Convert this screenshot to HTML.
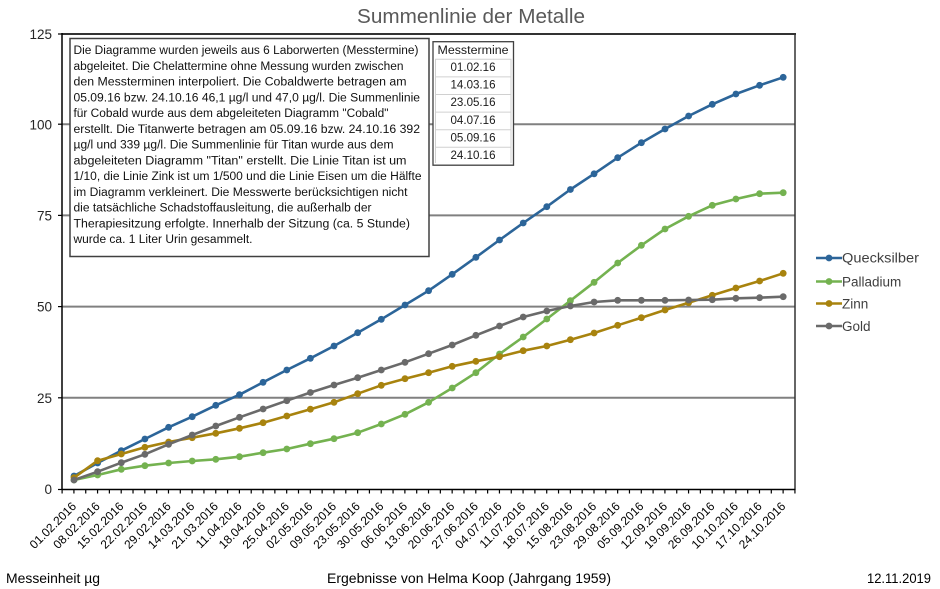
<!DOCTYPE html>
<html>
<head>
<meta charset="utf-8">
<style>
  html,body{margin:0;padding:0;background:#fff;}
  svg{display:block;}
  text{font-family:"Liberation Sans",Arial,sans-serif;}
</style>
</head>
<body>
<svg width="940" height="589" viewBox="0 0 940 589" xmlns="http://www.w3.org/2000/svg">
  <defs>
    <marker id="mB" markerUnits="userSpaceOnUse" markerWidth="10" markerHeight="10" refX="5" refY="5"><circle cx="5" cy="5" r="3.4" fill="#2c6599"/></marker>
    <marker id="mP" markerUnits="userSpaceOnUse" markerWidth="10" markerHeight="10" refX="5" refY="5"><circle cx="5" cy="5" r="3.4" fill="#74b250"/></marker>
    <marker id="mZ" markerUnits="userSpaceOnUse" markerWidth="10" markerHeight="10" refX="5" refY="5"><circle cx="5" cy="5" r="3.4" fill="#a8830e"/></marker>
    <marker id="mG" markerUnits="userSpaceOnUse" markerWidth="10" markerHeight="10" refX="5" refY="5"><circle cx="5" cy="5" r="3.4" fill="#6a6a6a"/></marker>
  </defs>

  <!-- Title -->
  <text x="471" y="23" text-anchor="middle" font-size="20" fill="#595959" textLength="228" lengthAdjust="spacingAndGlyphs">Summenlinie der Metalle</text>

  <!-- Gridlines -->
  <g stroke="#808080" stroke-width="2">
    <line x1="62" y1="124.2" x2="795" y2="124.2"/>
    <line x1="62" y1="215.4" x2="795" y2="215.4"/>
    <line x1="62" y1="306.6" x2="795" y2="306.6"/>
    <line x1="62" y1="397.8" x2="795" y2="397.8"/>
  </g>
  <!-- Plot border top/right -->
  <line x1="62" y1="34" x2="796" y2="34" stroke="#333" stroke-width="2"/>
  <line x1="795" y1="33" x2="795" y2="490" stroke="#333" stroke-width="1.5"/>

  <!-- Axes -->
  <line x1="62" y1="33" x2="62" y2="490" stroke="#000" stroke-width="1.5"/>
  <line x1="62" y1="489.5" x2="795" y2="489.5" stroke="#000" stroke-width="1.5"/>
  <!-- y ticks -->
  <g stroke="#000" stroke-width="1.2">
    <line x1="58" y1="34" x2="62" y2="34"/>
    <line x1="58" y1="124.2" x2="62" y2="124.2"/>
    <line x1="58" y1="215.4" x2="62" y2="215.4"/>
    <line x1="58" y1="306.6" x2="62" y2="306.6"/>
    <line x1="58" y1="397.8" x2="62" y2="397.8"/>
    <line x1="58" y1="489.5" x2="62" y2="489.5"/>
  </g>
  <!-- x ticks -->
  <line x1="61.5" y1="491.5" x2="796" y2="491.5" stroke="#000" stroke-width="4" stroke-dasharray="1.2 10.62"/>

  <!-- y labels -->
  <g font-size="13.5" fill="#262626" text-anchor="end">
    <text x="52" y="39">125</text>
    <text x="52" y="129.5">100</text>
    <text x="52" y="220.5">75</text>
    <text x="52" y="311.5">50</text>
    <text x="52" y="403">25</text>
    <text x="52" y="494">0</text>
  </g>

  <!-- Series -->
  <g fill="none" stroke-width="2.6" stroke-linejoin="round" stroke-linecap="round">
    <polyline stroke="#2c6599" marker-start="url(#mB)" marker-mid="url(#mB)" marker-end="url(#mB)"
      points="74,476 97.6,463 121.3,450.7 144.9,439 168.6,427.3 192.2,416.7 215.8,405.3 239.5,394.7 263.1,382.3 286.8,370 310.4,358.3 334,346 357.7,332.7 381.3,319.3 405,305 428.6,290.7 452.2,274.3 475.9,257.3 499.5,240 523.2,223 546.8,206.7 570.4,189.5 594.1,173.8 617.7,157.7 641.4,142.7 665,129 688.6,116 712.3,104.3 735.9,94 759.6,85.3 783.2,77.3"/>
    <polyline stroke="#74b250" marker-start="url(#mP)" marker-mid="url(#mP)" marker-end="url(#mP)"
      points="74,480 97.6,475 121.3,469.3 144.9,465.7 168.6,463 192.2,461 215.8,459.3 239.5,456.7 263.1,452.7 286.8,449 310.4,443.7 334,438.7 357.7,432.7 381.3,424 405,414.3 428.6,402.3 452.2,388 475.9,372.7 499.5,354 523.2,337 546.8,319 570.4,300.7 594.1,282.3 617.7,263 641.4,245.3 665,229 688.6,216.3 712.3,205.3 735.9,199 759.6,193.7 783.2,192.7"/>
    <polyline stroke="#a8830e" marker-start="url(#mZ)" marker-mid="url(#mZ)" marker-end="url(#mZ)"
      points="74,477.7 97.6,460.7 121.3,454 144.9,447.3 168.6,442 192.2,437.7 215.8,433.3 239.5,428.3 263.1,422.7 286.8,416 310.4,409.2 334,402.3 357.7,393.7 381.3,385.3 405,378.7 428.6,372.7 452.2,366.3 475.9,361.3 499.5,356.7 523.2,350.7 546.8,346 570.4,339.7 594.1,333 617.7,325.3 641.4,317.7 665,310 688.6,302.7 712.3,295.3 735.9,288 759.6,281 783.2,273.3"/>
    <polyline stroke="#6a6a6a" marker-start="url(#mG)" marker-mid="url(#mG)" marker-end="url(#mG)"
      points="74,480 97.6,471.7 121.3,462.7 144.9,454.3 168.6,444.3 192.2,435 215.8,426 239.5,417.3 263.1,409 286.8,400.7 310.4,392.5 334,385 357.7,377.7 381.3,370 405,362.3 428.6,353.7 452.2,345 475.9,335.3 499.5,326 523.2,317 546.8,311 570.4,306 594.1,302 617.7,300.3 641.4,300.3 665,300.3 688.6,300 712.3,299.7 735.9,298.3 759.6,297.7 783.2,296.7"/>
  </g>

  <!-- Text box -->
  <rect x="70" y="38.5" width="359" height="218" fill="#fff" stroke="#404040" stroke-width="1.5"/>
  <g font-size="11.5" fill="#111">
    <text x="73.5" y="54" textLength="345" lengthAdjust="spacingAndGlyphs">Die Diagramme wurden jeweils aus 6 Laborwerten (Messtermine)</text>
    <text x="73.5" y="69.75" textLength="330" lengthAdjust="spacingAndGlyphs">abgeleitet. Die Chelattermine ohne Messung wurden zwischen</text>
    <text x="73.5" y="85.5" textLength="333" lengthAdjust="spacingAndGlyphs">den Messterminen interpoliert. Die Cobaldwerte betragen am</text>
    <text x="73.5" y="101.25" textLength="346.5" lengthAdjust="spacingAndGlyphs">05.09.16 bzw. 24.10.16  46,1 µg/l und 47,0 µg/l. Die Summenlinie</text>
    <text x="73.5" y="117" textLength="315" lengthAdjust="spacingAndGlyphs">für Cobald wurde aus dem  abgeleiteten Diagramm "Cobald"</text>
    <text x="73.5" y="132.75" textLength="346.5" lengthAdjust="spacingAndGlyphs">erstellt. Die Titanwerte  betragen am 05.09.16 bzw. 24.10.16  392</text>
    <text x="73.5" y="148.5" textLength="320" lengthAdjust="spacingAndGlyphs">µg/l und 339 µg/l. Die Summenlinie für Titan wurde aus dem</text>
    <text x="73.5" y="164.25" textLength="333" lengthAdjust="spacingAndGlyphs">abgeleiteten Diagramm "Titan" erstellt. Die  Linie Titan ist um</text>
    <text x="73.5" y="180" textLength="348" lengthAdjust="spacingAndGlyphs">1/10, die Linie Zink ist um 1/500 und die Linie Eisen um die Hälfte</text>
    <text x="73.5" y="195.75" textLength="334" lengthAdjust="spacingAndGlyphs">im Diagramm  verkleinert. Die Messwerte berücksichtigen nicht</text>
    <text x="73.5" y="211.5" textLength="298" lengthAdjust="spacingAndGlyphs">die tatsächliche  Schadstoffausleitung, die außerhalb der</text>
    <text x="73.5" y="227.25" textLength="336.5" lengthAdjust="spacingAndGlyphs">Therapiesitzung erfolgte. Innerhalb der Sitzung  (ca. 5 Stunde)</text>
    <text x="73.5" y="243" textLength="179" lengthAdjust="spacingAndGlyphs">wurde ca. 1 Liter Urin gesammelt.</text>
  </g>

  <!-- Messtermine table -->
  <rect x="433" y="41.7" width="80.5" height="123.5" fill="#fff" stroke="#404040" stroke-width="1.3"/>
  <g stroke="#d0d0d0" stroke-width="1">
    <line x1="435" y1="59.3" x2="511.5" y2="59.3"/>
    <line x1="435" y1="76.9" x2="511.5" y2="76.9"/>
    <line x1="435" y1="94.5" x2="511.5" y2="94.5"/>
    <line x1="435" y1="112.1" x2="511.5" y2="112.1"/>
    <line x1="435" y1="129.7" x2="511.5" y2="129.7"/>
    <line x1="435" y1="147.3" x2="511.5" y2="147.3"/>
    <line x1="435.5" y1="59.3" x2="435.5" y2="163"/>
    <line x1="511" y1="59.3" x2="511" y2="163"/>
  </g>
  <g font-size="11.5" fill="#1a1a1a" text-anchor="middle">
    <text x="473" y="54" textLength="71" lengthAdjust="spacingAndGlyphs">Messtermine</text>
    <text x="473" y="71" textLength="45" lengthAdjust="spacingAndGlyphs">01.02.16</text>
    <text x="473" y="88.6" textLength="45" lengthAdjust="spacingAndGlyphs">14.03.16</text>
    <text x="473" y="106.2" textLength="45" lengthAdjust="spacingAndGlyphs">23.05.16</text>
    <text x="473" y="123.8" textLength="45" lengthAdjust="spacingAndGlyphs">04.07.16</text>
    <text x="473" y="141.4" textLength="45" lengthAdjust="spacingAndGlyphs">05.09.16</text>
    <text x="473" y="159" textLength="45" lengthAdjust="spacingAndGlyphs">24.10.16</text>
  </g>

  <!-- Legend -->
  <g stroke-width="2.6">
    <line x1="816" y1="258" x2="842" y2="258" stroke="#2c6599"/>
    <circle cx="829" cy="258" r="3.4" fill="#2c6599" stroke="none"/>
    <line x1="816" y1="281.5" x2="842" y2="281.5" stroke="#74b250"/>
    <circle cx="829" cy="281.5" r="3.4" fill="#74b250" stroke="none"/>
    <line x1="816" y1="303.5" x2="842" y2="303.5" stroke="#a8830e"/>
    <circle cx="829" cy="303.5" r="3.4" fill="#a8830e" stroke="none"/>
    <line x1="816" y1="326" x2="842" y2="326" stroke="#6a6a6a"/>
    <circle cx="829" cy="326" r="3.4" fill="#6a6a6a" stroke="none"/>
  </g>
  <g font-size="13.5" fill="#404040">
    <text x="842" y="262.5" textLength="77" lengthAdjust="spacingAndGlyphs">Quecksilber</text>
    <text x="842" y="286.5">Palladium</text>
    <text x="842" y="308.5">Zinn</text>
    <text x="842" y="331">Gold</text>
  </g>

  <!-- X labels -->
  <g font-size="12" fill="#000" text-anchor="end">
    <text transform="translate(77,507) rotate(-45)">01.02.2016</text>
    <text transform="translate(100.6,507) rotate(-45)">08.02.2016</text>
    <text transform="translate(124.3,507) rotate(-45)">15.02.2016</text>
    <text transform="translate(147.9,507) rotate(-45)">22.02.2016</text>
    <text transform="translate(171.6,507) rotate(-45)">29.02.2016</text>
    <text transform="translate(195.2,507) rotate(-45)">14.03.2016</text>
    <text transform="translate(218.8,507) rotate(-45)">21.03.2016</text>
    <text transform="translate(242.5,507) rotate(-45)">11.04.2016</text>
    <text transform="translate(266.1,507) rotate(-45)">18.04.2016</text>
    <text transform="translate(289.8,507) rotate(-45)">25.04.2016</text>
    <text transform="translate(313.4,507) rotate(-45)">02.05.2016</text>
    <text transform="translate(337,507) rotate(-45)">09.05.2016</text>
    <text transform="translate(360.7,507) rotate(-45)">23.05.2016</text>
    <text transform="translate(384.3,507) rotate(-45)">30.05.2016</text>
    <text transform="translate(408,507) rotate(-45)">06.06.2016</text>
    <text transform="translate(431.6,507) rotate(-45)">13.06.2016</text>
    <text transform="translate(455.2,507) rotate(-45)">20.06.2016</text>
    <text transform="translate(478.9,507) rotate(-45)">27.06.2016</text>
    <text transform="translate(502.5,507) rotate(-45)">04.07.2016</text>
    <text transform="translate(526.2,507) rotate(-45)">11.07.2016</text>
    <text transform="translate(549.8,507) rotate(-45)">18.07.2016</text>
    <text transform="translate(573.4,507) rotate(-45)">15.08.2016</text>
    <text transform="translate(597.1,507) rotate(-45)">23.08.2016</text>
    <text transform="translate(620.7,507) rotate(-45)">29.08.2016</text>
    <text transform="translate(644.4,507) rotate(-45)">05.09.2016</text>
    <text transform="translate(668,507) rotate(-45)">12.09.2016</text>
    <text transform="translate(691.6,507) rotate(-45)">19.09.2016</text>
    <text transform="translate(715.3,507) rotate(-45)">26.09.2016</text>
    <text transform="translate(738.9,507) rotate(-45)">10.10.2016</text>
    <text transform="translate(762.6,507) rotate(-45)">17.10.2016</text>
    <text transform="translate(786.2,507) rotate(-45)">24.10.2016</text>
  </g>

  <!-- Footer -->
  <g font-size="14" fill="#000">
    <text x="6" y="583" textLength="94" lengthAdjust="spacingAndGlyphs">Messeinheit µg</text>
    <text x="469" y="583" text-anchor="middle" textLength="284" lengthAdjust="spacingAndGlyphs">Ergebnisse von Helma Koop (Jahrgang 1959)</text>
    <text x="931" y="583" text-anchor="end" textLength="64" lengthAdjust="spacingAndGlyphs">12.11.2019</text>
  </g>
</svg>
</body>
</html>
